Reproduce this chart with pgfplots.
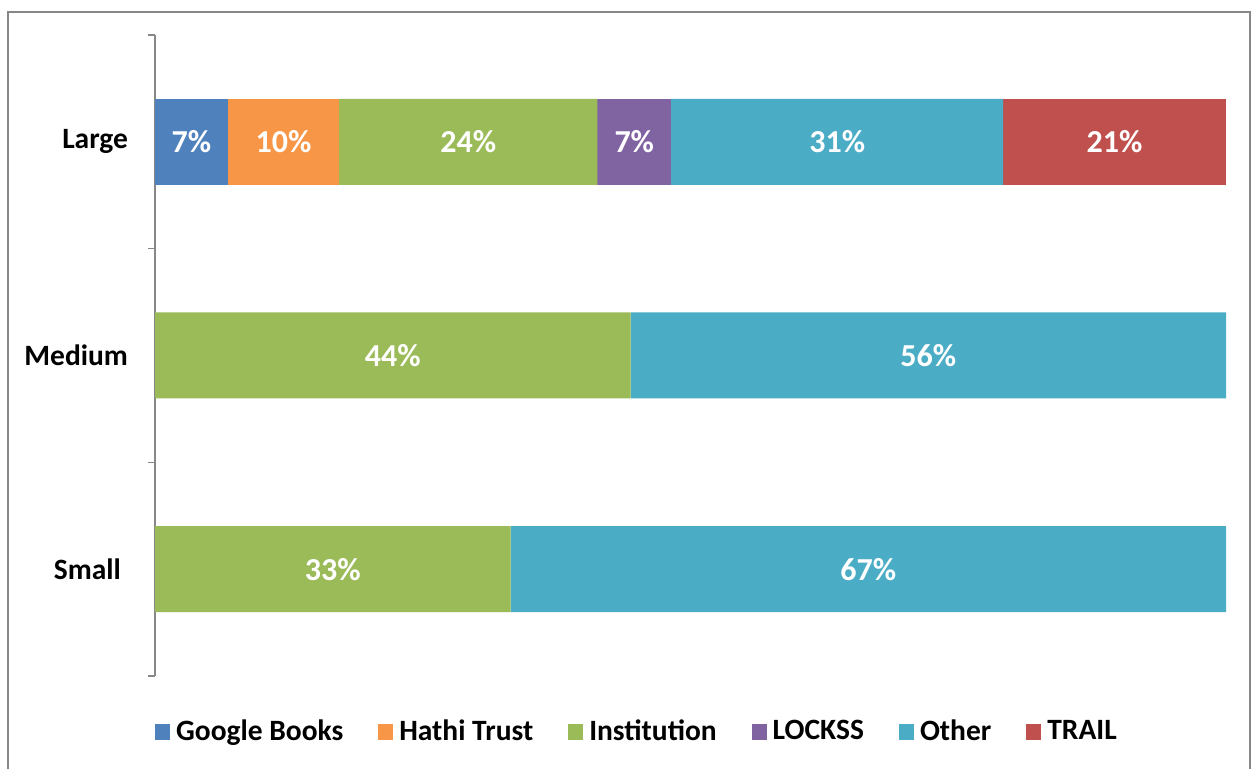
\documentclass[border=0pt]{standalone}
\usepackage{pgfplots}
\pgfplotsset{compat=1.18}
\usepackage{fontspec}
\setmainfont{Carlito}
\definecolor{cgoogle}{HTML}{4F81BD}
\definecolor{chathi}{HTML}{F79646}
\definecolor{cinst}{HTML}{9BBB59}
\definecolor{clockss}{HTML}{8064A2}
\definecolor{cother}{HTML}{4BACC6}
\definecolor{ctrail}{HTML}{C0504D}
\definecolor{frame}{HTML}{878787}
\newcommand{\lf}{\fontsize{29.5}{34}\selectfont\bfseries}
\newcommand{\barfont}{\fontsize{32}{36}\selectfont\bfseries}
\newcommand{\smalllab}{Small\rule{7pt}{0pt}}
\begin{document}
\lf
\begin{tikzpicture}[x=1pt,y=1pt]
\useasboundingbox (0,0) rectangle (1255,768);
\draw[frame, line width=2pt] (8,-5) rectangle (1250,756);
\begin{axis}[
  at={(155pt,92pt)}, anchor=south west,
  scale only axis, width=1071pt, height=641pt,
  xbar stacked, bar width=86pt,
  xmin=0, xmax=100, ymin=-0.5, ymax=2.5,
  axis x line=none,
  axis y line*=left,
  y axis line style={frame, line width=1.2pt, -},
  ytick={0,1,2}, yticklabels={\smalllab,Medium,Large},
  minor ytick={-0.5,0.5,1.5,2.5},
  major tick length=0pt, minor tick length=7pt,
  tick align=outside,
  minor tick style={frame, line width=1.2pt},
  yticklabel style={font=\lf, xshift=-17pt},
  /pgf/number format/assume math mode=true,
  point meta=rawx,
  nodes near coords={\pgfmathfloatifflags{\pgfplotspointmeta}{0}{}{\pgfmathprintnumber[fixed,precision=0,assume math mode=true]{\pgfplotspointmeta}\%}},
  every node near coord/.append style={font=\barfont, text=white, anchor=center},
  legend style={at={(0.45,-0.0874)}, anchor=center, draw=none, legend columns=6,
    font=\lf,
    /tikz/every odd column/.append style={column sep=4pt},
    /tikz/every even column/.append style={column sep=33pt}},
  legend image code/.code={\fill[#1] (0pt,-8pt) rectangle (15pt,8pt);},
]
\addplot[fill=cgoogle, draw=none] coordinates {(0,0) (0,1) (6.8,2)};
\addplot[fill=chathi, draw=none] coordinates {(0,0) (0,1) (10.4,2)};
\addplot[fill=cinst, draw=none] coordinates {(33.2,0) (44.4,1) (24.1,2)};
\addplot[fill=clockss, draw=none] coordinates {(0,0) (0,1) (6.9,2)};
\addplot[fill=cother, draw=none] coordinates {(66.8,0) (55.6,1) (31.0,2)};
\addplot[fill=ctrail, draw=none] coordinates {(0,0) (0,1) (20.8,2)};
\legend{Google Books, Hathi Trust, Institution, LOCKSS, Other, TRAIL}
\end{axis}
\end{tikzpicture}
\end{document}
